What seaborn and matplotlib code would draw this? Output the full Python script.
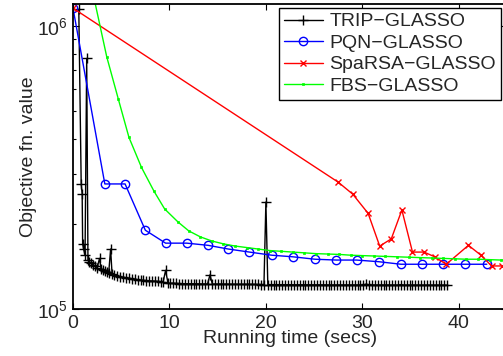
import numpy as np
import matplotlib
matplotlib.use("Agg")
import matplotlib.pyplot as plt
import seaborn as sns

# series (time in secs, objective value)
trip_time = [0.6, 0.85, 0.95, 1.0, 1.1, 1.25, 1.42, 1.55, 1.7, 1.9, 2.1, 2.3, 2.5, 2.75, 2.9,
             3.1, 3.3, 3.5, 3.7, 3.9, 4.05,
             4.3, 4.6, 4.9, 5.2, 5.5, 5.8, 6.1, 6.4, 6.7, 7.0, 7.3, 7.6, 7.9, 8.2, 8.5, 8.8, 9.1, 9.35, 9.6, 9.85,
             10.1, 10.4, 10.7, 11.0, 11.3, 11.6, 11.9, 12.2, 12.5, 12.8, 13.1, 13.4, 13.7, 13.95, 14.2, 14.45,
             14.7, 15.0, 15.3, 15.6, 15.9, 16.2, 16.5, 16.8, 17.1, 17.4, 17.7, 18.0, 18.3, 18.6, 18.9, 19.2, 19.5, 19.8,
             20.0, 20.2,
             20.5, 20.8, 21.1, 21.4, 21.7, 22.0, 22.3, 22.6, 22.9, 23.2, 23.5, 23.8, 24.1, 24.4, 24.7, 25.0, 25.3, 25.6, 25.9,
             26.2, 26.5, 26.8, 27.1, 27.4, 27.7, 28.0, 28.3, 28.6, 28.9, 29.2, 29.5, 29.8, 30.1, 30.4, 30.7, 31.0, 31.3, 31.6, 31.9,
             32.2, 32.5, 32.8, 33.1, 33.4, 33.7, 34.0, 34.3, 34.6, 34.9, 35.2, 35.5, 35.8, 36.1, 36.4, 36.7, 37.0, 37.3, 37.6, 37.9,
             38.2, 38.5, 38.8]
trip_obj = [1.15e6, 2.77e5, 2.55e5, 1.70e5, 1.63e5, 1.55e5, 7.7e5, 1.49e5, 1.47e5, 1.45e5, 1.43e5, 1.42e5, 1.40e5, 1.51e5, 1.39e5,
            1.37e5, 1.36e5, 1.35e5, 1.34e5, 1.63e5, 1.33e5,
            1.32e5, 1.31e5, 1.30e5, 1.295e5, 1.29e5, 1.285e5, 1.28e5, 1.275e5, 1.27e5, 1.265e5, 1.262e5, 1.26e5, 1.258e5, 1.256e5,
            1.254e5, 1.252e5, 1.25e5, 1.248e5, 1.37e5, 1.235e5,
            1.233e5, 1.232e5, 1.231e5, 1.23e5, 1.23e5, 1.229e5, 1.229e5, 1.228e5, 1.228e5, 1.227e5, 1.227e5, 1.226e5, 1.226e5,
            1.226e5, 1.32e5, 1.225e5,
            1.225e5, 1.225e5, 1.224e5, 1.224e5, 1.224e5, 1.223e5, 1.223e5, 1.223e5, 1.222e5, 1.222e5, 1.222e5, 1.222e5,
            1.221e5, 1.221e5, 1.221e5, 1.221e5, 1.22e5, 1.22e5,
            2.39e5, 1.22e5,
            1.22e5, 1.22e5, 1.219e5, 1.219e5, 1.219e5, 1.219e5, 1.219e5, 1.218e5, 1.218e5, 1.218e5, 1.218e5, 1.218e5, 1.218e5,
            1.217e5, 1.217e5, 1.217e5, 1.217e5, 1.217e5, 1.217e5,
            1.216e5, 1.216e5, 1.216e5, 1.216e5, 1.216e5, 1.216e5, 1.216e5, 1.216e5, 1.216e5, 1.216e5, 1.216e5, 1.216e5,
            1.216e5, 1.216e5, 1.225e5, 1.216e5, 1.216e5, 1.215e5, 1.215e5, 1.215e5,
            1.215e5, 1.215e5, 1.215e5, 1.215e5, 1.215e5, 1.215e5, 1.22e5, 1.215e5, 1.215e5, 1.215e5, 1.215e5, 1.215e5,
            1.214e5, 1.214e5, 1.214e5, 1.214e5, 1.214e5, 1.214e5, 1.214e5, 1.214e5,
            1.214e5, 1.214e5, 1.214e5]

pqn_time = [0.0, 3.3, 5.4, 7.5, 9.6, 11.8, 14.0, 16.1, 18.3, 20.6, 22.8, 25.1, 27.3, 29.4, 31.7, 34.0, 36.2, 38.4, 40.6, 42.9]
pqn_obj = [1.16e6, 2.77e5, 2.77e5, 1.90e5, 1.71e5, 1.71e5, 1.68e5, 1.63e5, 1.59e5, 1.55e5, 1.53e5, 1.50e5, 1.49e5,
           1.49e5, 1.47e5, 1.44e5, 1.44e5, 1.44e5, 1.44e5, 1.44e5]

sparsa_time = [0.0, 27.5, 29.0, 30.6, 31.8, 33.0, 34.1, 35.2, 36.4, 37.5, 38.7, 41.0, 42.3, 43.4, 44.5]
sparsa_obj = [1.16e6, 2.81e5, 2.55e5, 2.18e5, 1.67e5, 1.77e5, 2.24e5, 1.59e5, 1.59e5, 1.53e5, 1.44e5, 1.68e5, 1.55e5,
              1.42e5, 1.42e5]

fbs_time = [2.2, 3.5, 4.7, 5.8, 7.1, 8.4, 9.5, 10.9, 12.0, 13.2, 14.4, 15.6, 16.8, 18.0, 19.2, 20.4, 21.6, 22.8, 24.0,
            25.2, 26.4, 27.6, 28.8, 30.0, 31.2, 32.4, 33.6, 34.8, 36.0, 37.2, 38.4, 39.6, 40.8, 42.0, 43.2, 44.4, 45.6]
fbs_obj = [1.25e6, 7.8e5, 5.53e5, 4.05e5, 3.17e5, 2.61e5, 2.26e5, 2.03e5, 1.89e5, 1.80e5, 1.74e5, 1.70e5, 1.67e5,
           1.65e5, 1.63e5, 1.61e5, 1.60e5, 1.59e5, 1.58e5, 1.57e5, 1.565e5, 1.56e5, 1.55e5, 1.545e5, 1.54e5, 1.535e5,
           1.53e5, 1.525e5, 1.52e5, 1.515e5, 1.51e5, 1.505e5, 1.50e5, 1.50e5, 1.495e5, 1.49e5, 1.49e5]

sns.set_style("ticks")
plt.rcParams["font.family"] = ["Liberation Sans", "DejaVu Sans"]
plt.rcParams["font.size"] = 14
plt.rcParams["mathtext.default"] = "regular"

fig = plt.figure(figsize=(5.03, 3.56), dpi=100)
ax = fig.add_axes([73 / 503, 47 / 356, 434 / 503, 305 / 356])

common = dict(estimator=None, sort=False, ax=ax, linewidth=1.0)
sns.lineplot(x=trip_time, y=trip_obj, color="black", marker="+", markersize=7,
             markeredgecolor="black", markeredgewidth=1.0, label="TRIP\u2212GLASSO", **common)
sns.lineplot(x=pqn_time, y=pqn_obj, color="#0000ff", marker="o", markersize=6, markerfacecolor="none",
             markeredgecolor="#0000ff", markeredgewidth=1.0, label="PQN\u2212GLASSO", **common)
sns.lineplot(x=sparsa_time, y=sparsa_obj, color="#ff0000", marker="x", markersize=5,
             markeredgecolor="#ff0000", markeredgewidth=1.0, label="SpaRSA\u2212GLASSO", **common)
sns.lineplot(x=fbs_time, y=fbs_obj, color="#00ff00", marker="s", markersize=2,
             markeredgecolor="#00ff00", markeredgewidth=0.5, label="FBS\u2212GLASSO", **common)

ax.set_yscale("log")
ax.set_xlim(0, 45)
ax.set_ylim(1e5, 1.2e6)
ax.set_xticks([0, 10, 20, 30, 40])
ax.set_xlabel("Running time (secs)", fontsize=14, labelpad=-1)
ax.set_ylabel("Objective fn. value", fontsize=14, labelpad=0)
ax.tick_params(which="both", direction="in", top=True, right=True, labelsize=14, color="black")
ax.tick_params(which="major", length=4, width=0.8)
ax.tick_params(which="minor", length=2, width=0.8)
ax.tick_params(axis="x", pad=4)
for s in ax.spines.values():
    s.set_linewidth(1.3)
    s.set_color("black")

leg = ax.legend(loc="upper right", bbox_to_anchor=(501 / 503, 1 - 8 / 356), bbox_transform=fig.transFigure,
                borderaxespad=0, fancybox=False, framealpha=1, edgecolor="black", fontsize=14,
                handlelength=2.0, handletextpad=0.35, labelspacing=0.2, borderpad=0.25)
leg.get_frame().set_linewidth(1.0)

fig.savefig("out.png", dpi=100)
